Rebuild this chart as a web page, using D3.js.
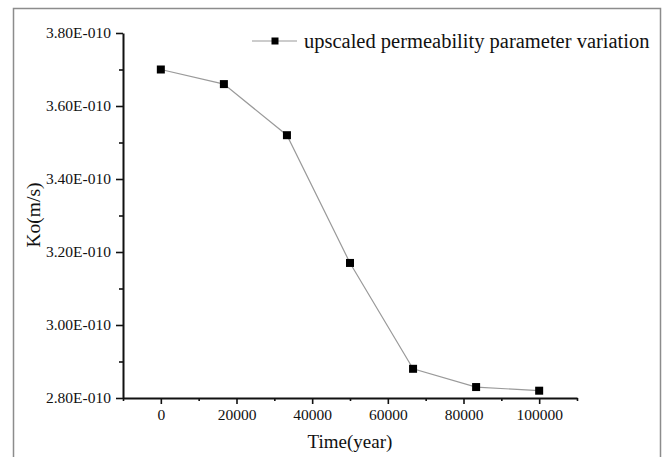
<!DOCTYPE html>
<html>
<head>
<meta charset="utf-8">
<script src="https://cdn.jsdelivr.net/npm/d3@7"></script>
<style>
  html, body { margin: 0; padding: 0; background: #fff; }
  svg { display: block; }
  svg text { font-family: "Liberation Serif", "Times New Roman", serif; fill: #111; }
</style>
</head>
<body>
<svg id="chart" width="665" height="457"></svg>
<script>
// Time in years and the upscaled permeability Ko (units of 1e-10 m/s)
const years = [0, 16667, 33333, 50000, 66667, 83333, 100000];
const koValues = [3.70, 3.66, 3.52, 3.17, 2.88, 2.83, 2.82];
const xTicks = [0, 20000, 40000, 60000, 80000, 100000];
const xMinorTicks = [-10000, 10000, 30000, 50000, 70000, 90000, 110000];
const yTicks = [2.80, 3.00, 3.20, 3.40, 3.60, 3.80];
const yMinorTicks = [2.90, 3.10, 3.30, 3.50, 3.70];
const seriesName = "upscaled permeability parameter variation";

const SERIF = "Liberation Serif, Times New Roman, serif";
const svg = d3.select("#chart");

// outer frame (open at the bottom)
svg.append("path")
  .attr("d", "M13.5,457 V8.5 H660.5 V457")
  .attr("fill", "none")
  .attr("stroke", "#8c8c8c")
  .attr("stroke-width", 1.5);

const x = d3.scaleLinear().domain([-10000, 110000]).range([123, 577]);
const y = d3.scaleLinear().domain([2.80, 3.80]).range([398, 33]);

const fmtY = d => d.toFixed(2) + "E-010";

// x axis
const gx = svg.append("g").attr("transform", "translate(0,398)");
gx.call(d3.axisBottom(x).tickValues(xTicks).tickSize(6).tickSizeOuter(0).tickPadding(5).tickFormat(d3.format("d")));
gx.append("g").call(d3.axisBottom(x).tickValues(xMinorTicks).tickSize(3).tickSizeOuter(0).tickFormat(""))
  .select(".domain").remove();

// y axis
const gy = svg.append("g").attr("transform", "translate(123,0)");
gy.call(d3.axisLeft(y).tickValues(yTicks).tickSize(7).tickSizeOuter(0).tickPadding(5).tickFormat(fmtY));
gy.append("g").call(d3.axisLeft(y).tickValues(yMinorTicks).tickSize(4).tickSizeOuter(0).tickFormat(""))
  .select(".domain").remove();

[gx, gy].forEach(g => g.attr("font-family", SERIF).attr("font-size", 15.5));
svg.selectAll(".domain").attr("stroke", "#111").attr("stroke-width", 2);
svg.selectAll(".tick line").attr("stroke", "#111").attr("stroke-width", 1.6);
svg.selectAll(".tick text")
  .attr("font-family", SERIF)
  .attr("font-size", 15.5)
  .attr("fill", "#111");

// axis titles
svg.append("text")
  .attr("x", 350).attr("y", 448)
  .attr("text-anchor", "middle")
  .attr("font-family", SERIF)
  .attr("font-size", 19)
  .text("Time(year)");

svg.append("text")
  .attr("transform", "translate(40,215) rotate(-90)")
  .attr("text-anchor", "middle")
  .attr("font-family", SERIF)
  .attr("font-size", 19.5)
  .text("Ko(m/s)");

// series line and markers
const pts = years.map((t, i) => [t, koValues[i]]);
svg.append("path")
  .datum(pts)
  .attr("fill", "none")
  .attr("stroke", "#9a9a9a")
  .attr("stroke-width", 1.2)
  .attr("d", d3.line().x(d => x(d[0])).y(d => y(d[1])));

const ms = 8;
svg.selectAll("rect.pt")
  .data(pts)
  .join("rect")
  .attr("class", "pt")
  .attr("x", d => x(d[0]) - ms / 2)
  .attr("y", d => y(d[1]) - ms / 2)
  .attr("width", ms).attr("height", ms)
  .attr("fill", "#000");

// legend
const lg = svg.append("g");
lg.append("line")
  .attr("x1", 252).attr("x2", 297).attr("y1", 41).attr("y2", 41)
  .attr("stroke", "#9a9a9a").attr("stroke-width", 1.2);
lg.append("rect")
  .attr("x", 275 - 3.5).attr("y", 41 - 3.5)
  .attr("width", 7).attr("height", 7)
  .attr("fill", "#000");
lg.append("text")
  .attr("x", 304).attr("y", 47.5)
  .attr("font-family", SERIF)
  .attr("font-size", 20.5)
  .text(seriesName);
</script>
</body>
</html>
